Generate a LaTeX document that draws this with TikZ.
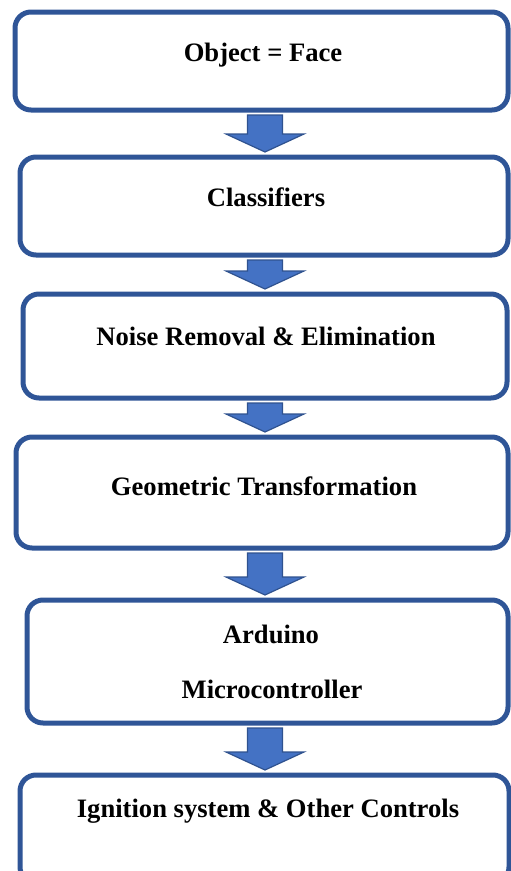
\documentclass[tikz,border=0pt]{standalone}
\usepackage{fontspec}
\setmainfont{Liberation Serif}
\usetikzlibrary{calc}
\definecolor{boxblue}{RGB}{47,85,151}
\definecolor{arrowfill}{RGB}{68,114,196}
\definecolor{arrowline}{RGB}{47,82,143}

\tikzset{
  flowbox/.style={draw=boxblue, line width=5pt, rounded corners=16pt, fill=white, inner sep=0pt},
  flowtext/.style={anchor=base, inner sep=0pt, font=\fontsize{26.6}{32}\selectfont\bfseries},
  flowarrow/.style={draw=arrowline, fill=arrowfill, line width=1.2pt, line join=miter}
}

% block arrow from the bottom of one box to the top of the next
\newcommand{\blockarrow}[2]{%
  \draw[flowarrow] let \p1=(#1.south -| axis), \p2=(#2.north -| axis) in
    (\x1-17.5pt,\y1-2.5pt) -- (\x1-17.5pt,\y2+20.5pt) -- (\x1-39pt,\y2+20.5pt)
    -- (\x1,\y2+2.5pt) -- (\x1+39pt,\y2+20.5pt) -- (\x1+17.5pt,\y2+20.5pt)
    -- (\x1+17.5pt,\y1-2.5pt) -- cycle;
}

\begin{document}
\begin{tikzpicture}[x=1pt, y=-1pt]
    \useasboundingbox (0,0) rectangle (511,871);
    \coordinate (axis) at (265,0);

    % Boxes
    \node[flowbox, minimum width=493pt, minimum height=98pt] (face) at (261.5,61) {};
    \node[flowbox, minimum width=488pt, minimum height=98pt] (classif) at (264,206) {};
    \node[flowbox, minimum width=484pt, minimum height=104pt] (noise) at (265,346) {};
    \node[flowbox, minimum width=492pt, minimum height=111pt] (geom) at (262,492.5) {};
    \node[flowbox, minimum width=481pt, minimum height=123pt] (arduino) at (267.5,661.5) {};
    \node[flowbox, minimum width=489pt, minimum height=108pt] (ignition) at (264.5,829) {};

    % Labels
    \node[flowtext] (facetxt) at (263,61) {Object = Face};
    \node[flowtext] (classiftxt) at (266,206) {Classifiers};
    \node[flowtext] (noisetxt) at (266,345) {Noise Removal \& Elimination};
    \node[flowtext] (geomtxt) at (264,495) {Geometric Transformation};
    \node[flowtext] (arduinotxt) at (271,643) {Arduino};
    \node[flowtext] (microtxt) at (272,698) {Microcontroller};
    \node[flowtext] (ignitiontxt) at (268,817) {Ignition system \& Other Controls};

    % Arrows
    \blockarrow{face}{classif}
    \blockarrow{classif}{noise}
    \blockarrow{noise}{geom}
    \blockarrow{geom}{arduino}
    \blockarrow{arduino}{ignition}
\end{tikzpicture}
\end{document}
